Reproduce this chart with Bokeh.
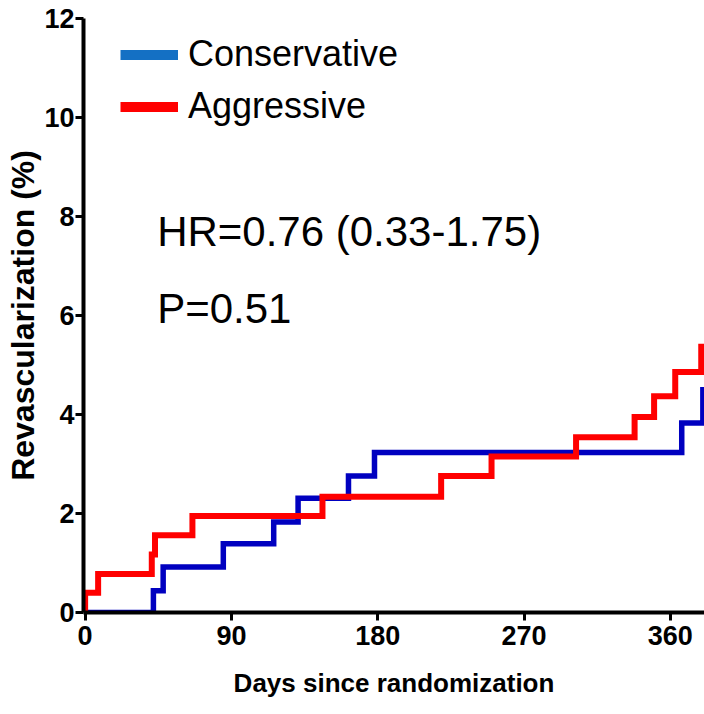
from bokeh.plotting import figure
from bokeh.models import Range1d, FixedTicker, Legend, LegendItem, Label
from bokeh.embed import file_html
from bokeh.resources import INLINE

# ---- data ----
cons_days = [0, 42, 48, 85, 116, 131, 162, 178, 367, 380, 382]
cons_vals = [0, 0.44, 0.92, 1.39, 1.83, 2.31, 2.76, 3.23, 3.83, 4.50, 4.50]
aggr_days = [0, 0, 8, 41, 43, 66, 146, 219, 250, 302, 338, 350, 363, 379, 382]
aggr_vals = [0, 0.40, 0.78, 1.17, 1.56, 1.95, 2.34, 2.76, 3.15, 3.54, 3.95, 4.37, 4.86, 5.37, 5.37]
x_ticks = [0, 90, 180, 270, 360]
y_ticks = [0, 2, 4, 6, 8, 10, 12]
series_names = ["Conservative", "Aggressive"]
hr_text = "HR=0.76 (0.33-1.75)"
p_text = "P=0.51"

SANS = "Liberation Sans"
NAN = float("nan")

p = figure(width=704, height=714, output_backend="svg", toolbar_location=None,
           x_range=Range1d(-1, 381), y_range=Range1d(0, 12),
           min_border_left=83, min_border_right=0, min_border_top=18, min_border_bottom=102)
p.outline_line_color = None
p.xgrid.grid_line_color = None
p.ygrid.grid_line_color = None
p.background_fill_color = "white"
p.border_fill_color = "white"

for ax in (p.xaxis[0], p.yaxis[0]):
    ax.axis_line_width = 4
    ax.axis_line_color = "black"
    ax.major_tick_line_width = 3
    ax.major_tick_line_color = "black"
    ax.major_tick_out = 8
    ax.major_tick_in = 0
    ax.minor_tick_line_color = None
    ax.major_label_text_font = SANS
    ax.major_label_text_font_style = "bold"
    ax.major_label_text_font_size = "27px"
    ax.major_label_text_color = "black"
    ax.axis_label_text_font = SANS
    ax.axis_label_text_font_style = "bold"
    ax.axis_label_text_color = "black"

p.xaxis.ticker = FixedTicker(ticks=x_ticks)
p.yaxis.ticker = FixedTicker(ticks=y_ticks)
p.xaxis.major_label_standoff = 5
p.yaxis.major_label_standoff = 1
p.xaxis.axis_label = "Days since randomization"
p.xaxis.axis_label_text_font_size = "26px"
p.xaxis.axis_label_standoff = 20
p.yaxis.axis_label = "Revascularization (%)"
p.yaxis.axis_label_text_font_size = "32px"
p.yaxis.axis_label_standoff = 0

r_cons = p.step(cons_days, cons_vals, mode="after", line_color="#0000c0", line_width=5.5, line_join="miter")
r_aggr = p.step(aggr_days, aggr_vals, mode="after", line_color="#ff0000", line_width=6, line_join="miter")

# legend swatches (lighter blue in the reference legend); not drawn in the plot
d_cons = p.line([NAN], [NAN], line_color="#1470c4", line_width=10)
d_aggr = p.line([NAN], [NAN], line_color="#ff0000", line_width=10)

legend = Legend(items=[LegendItem(label=series_names[0], renderers=[d_cons]),
                       LegendItem(label=series_names[1], renderers=[d_aggr])],
                location=(37, 485), orientation="vertical",
                label_text_font=SANS, label_text_font_size="36px", label_text_color="black",
                glyph_width=58, glyph_height=41, label_height=41, label_standoff=10,
                spacing=10, padding=0, margin=0,
                border_line_color=None, background_fill_alpha=0)
p.add_layout(legend)

p.add_layout(Label(x=44.3, y=7.70, text=hr_text, text_font=SANS, text_font_size="42px",
                   text_color="black", text_baseline="alphabetic"))
p.add_layout(Label(x=44.3, y=6.14, text=p_text, text_font=SANS, text_font_size="42px",
                   text_color="black", text_baseline="alphabetic"))

open("out.html", "w").write(file_html(p, INLINE))
